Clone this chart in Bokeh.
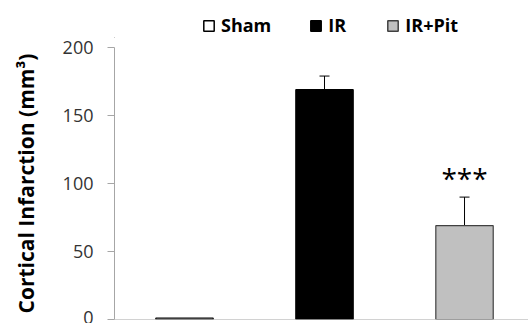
from bokeh.plotting import figure
from bokeh.layouts import column
from bokeh.models import Legend, LegendItem, Whisker, ColumnDataSource, Span, FixedTicker, Range1d, TeeHead
from bokeh.core.properties import value
from bokeh.embed import file_html
from bokeh.resources import INLINE

groups = ["Sham", "IR", "IR+Pit"]
means = [1, 169, 69]
errors = [0, 10, 21]
colors = ["#ffffff", "#000000", "#c0c0c0"]
outlines = ["#000000", "#000000", "#404040"]
y_ticks = [0, 50, 100, 150, 200]
stars = "***"

xpos = [i + 0.5 for i in range(len(groups))]
font = "Open Sans"

# legend strip (its renderers sit outside its visible range; only the legend shows)
lg = figure(width=528, height=38, output_backend="svg", toolbar_location=None,
            x_range=Range1d(10, 11), y_range=Range1d(1000, 1001),
            x_axis_location=None, y_axis_location=None,
            min_border_left=0, min_border_right=0, min_border_top=0, min_border_bottom=0)
lg.grid.visible = False
lg.outline_line_color = None
items = []
for i, g in enumerate(groups):
    r = lg.vbar(x=[xpos[i]], top=[means[i]], width=0.41, fill_color=colors[i],
                line_color=outlines[i], line_width=1.5)
    items.append(LegendItem(label=g, renderers=[r]))
legend = Legend(items=items, orientation="horizontal", location=(88, 1),
                label_text_font=font, label_text_font_size="18px", label_text_font_style="bold",
                label_text_color="#000000",
                glyph_width=13, glyph_height=13, spacing=38, label_standoff=6,
                border_line_color=None, background_fill_alpha=0, padding=0, margin=0)
lg.add_layout(legend, "center")

# main chart
p = figure(width=528, height=285, output_backend="svg", toolbar_location=None,
           x_range=Range1d(0, 2.957), y_range=Range1d(0, 200),
           min_border_left=114, min_border_right=0, min_border_top=9, min_border_bottom=4)
p.outline_line_color = None
p.xgrid.visible = False
p.ygrid.visible = False
p.xaxis.visible = False

p.yaxis.ticker = FixedTicker(ticks=y_ticks)
p.yaxis.axis_line_color = "#a6a6a6"
p.yaxis.major_tick_line_color = "#a6a6a6"
p.yaxis.major_tick_out = 7
p.yaxis.major_tick_in = 0
p.yaxis.minor_tick_line_color = None
p.yaxis.major_label_text_font = font
p.yaxis.major_label_text_font_size = "18px"
p.yaxis.major_label_text_color = "#333333"
p.yaxis.major_label_standoff = 14
p.yaxis.axis_label = "Cortical Infarction (mm³)"
p.yaxis.axis_label_text_font = font
p.yaxis.axis_label_text_font_size = "21px"
p.yaxis.axis_label_text_font_style = "bold"
p.yaxis.axis_label_text_color = "#000000"
p.yaxis.axis_label_standoff = 20

p.add_layout(Span(location=0, dimension="width", line_color="#a6a6a6", line_width=1))

for i, g in enumerate(groups):
    src = ColumnDataSource(dict(x=[xpos[i]], top=[means[i]]))
    p.vbar(x="x", top="top", width=0.41, bottom=0, source=src,
           fill_color=colors[i], line_color=outlines[i], line_width=1.2)

ex = [xpos[i] for i in range(3) if errors[i] > 0]
elo = [means[i] for i in range(3) if errors[i] > 0]
ehi = [means[i] + errors[i] for i in range(3) if errors[i] > 0]
esrc = ColumnDataSource(dict(x=ex, lo=elo, hi=ehi))
w = Whisker(base="x", lower="lo", upper="hi", source=esrc, dimension="height",
            line_color="#000000", line_width=1,
            upper_head=TeeHead(size=10, line_color="#000000", line_width=1), lower_head=None)
p.add_layout(w)

p.text(x=[xpos[2]], y=[means[2] + errors[2] + 14], text=[stars], text_font=value(font),
       text_font_size="28px", text_align="center", text_baseline="middle", text_color="#000000")

layout = column(lg, p, spacing=0)
open("out.html", "w").write(file_html(layout, INLINE))
